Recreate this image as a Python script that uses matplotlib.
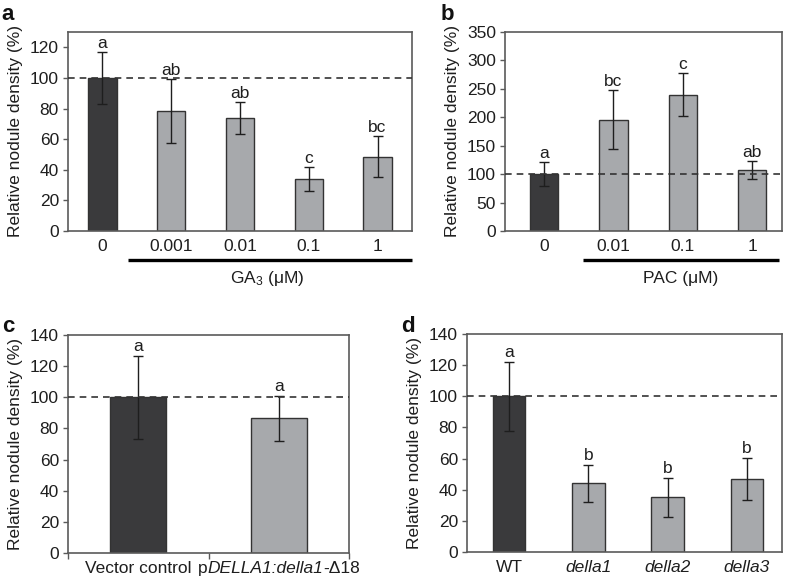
import matplotlib
matplotlib.use("Agg")
import matplotlib.pyplot as plt
import matplotlib.transforms as mtransforms
import numpy as np

plt.rcParams['font.family'] = ['Liberation Sans', 'DejaVu Sans']
plt.rcParams['mathtext.fontset'] = 'custom'
plt.rcParams['mathtext.rm'] = 'Liberation Sans'
plt.rcParams['mathtext.it'] = 'Liberation Sans:italic'

# ---- data ----
ga_labels = ['0', '0.001', '0.01', '0.1', '1']
ga_means = [100, 78.5, 74, 34, 48.5]
ga_err = [17, 21, 10.5, 8, 13.5]
ga_sig = ['a', 'ab', 'ab', 'c', 'bc']

pac_labels = ['0', '0.01', '0.1', '1']
pac_means = [100, 196, 240, 107]
pac_err = [21, 52, 38, 16]
pac_sig = ['a', 'bc', 'c', 'ab']

vec_labels = ['Vector control', '']
# second label is drawn in pieces (mixed upright / italic)
vec_label_parts = [('p', 'normal'), ('DELLA1:della1', 'italic'), ('-Δ18', 'normal')]
vec_means = [100, 86.5]
vec_err = [26.5, 14.5]
vec_sig = ['a', 'a']

mut_labels = ['WT', 'della1', 'della2', 'della3']
mut_means = [100, 44, 35, 47]
mut_err = [22, 12, 12.5, 13.5]
mut_sig = ['a', 'b', 'b', 'b']

DARK = '#3a3a3c'
GREY = '#a7a9ac'
EDGE = '#333333'
FRAME = '#5a5a5a'
TXT = '#1e1e1e'
FS = 12.5


def bar_panel(ax, labels, means, errs, sig, ylim, yticks, xlim, width, sig_off):
    x = np.arange(len(means))
    colors = [DARK] + [GREY] * (len(means) - 1)
    ax.bar(x, means, width=width, color=colors, edgecolor=EDGE, linewidth=1.0, zorder=2)
    ax.errorbar(x, means, yerr=errs, fmt='none', ecolor=TXT, elinewidth=1.0,
                capsize=3.5, capthick=1.0, zorder=3)
    ax.axhline(100, color='#333333', linestyle=(0, (4, 3)), linewidth=1.2, zorder=4)
    for xi, m, e, s in zip(x, means, errs, sig):
        ax.text(xi, m + e + sig_off, s, ha='center', va='bottom', fontsize=FS, color=TXT)
    ax.set_xlim(*xlim)
    ax.set_ylim(*ylim)
    ax.set_yticks(yticks)
    ax.set_xticks(x)
    ax.set_xticklabels(labels)
    ax.tick_params(axis='x', length=0, pad=6, labelsize=FS, colors=TXT)
    ax.tick_params(axis='y', direction='out', length=3.5, width=1.0, color=FRAME,
                   labelsize=FS, labelcolor=TXT, pad=3)
    for sp in ax.spines.values():
        sp.set_color(FRAME)
        sp.set_linewidth(1.2)
    ax.set_ylabel('Relative nodule density (%)', fontsize=FS, color=TXT, labelpad=5)


fig = plt.figure(figsize=(7.88, 5.83), dpi=100)

ax_a = fig.add_axes([0.0863, 0.6038, 0.4365, 0.3413])
bar_panel(ax_a, ga_labels, ga_means, ga_err, ga_sig, (0, 130), range(0, 121, 20),
          (-0.5, 4.5), 0.41, 0.5)
ax_a.plot([0.365, 4.5], [-0.146, -0.146], color='black', linewidth=2.4,
          transform=ax_a.get_xaxis_transform(), clip_on=False, solid_capstyle='butt')
ax_a.text(2.4, -0.24, 'GA$_3$ (μM)', transform=ax_a.get_xaxis_transform(),
          ha='center', va='center', fontsize=FS, color=TXT)

ax_b = fig.add_axes([0.6409, 0.6038, 0.3515, 0.3413])
bar_panel(ax_b, pac_labels, pac_means, pac_err, pac_sig, (0, 350), range(0, 351, 50),
          (-0.56, 3.43), 0.41, 2)
ax_b.plot([0.563, 3.38], [-0.146, -0.146], color='black', linewidth=2.4,
          transform=ax_b.get_xaxis_transform(), clip_on=False, solid_capstyle='butt')
ax_b.text(1.97, -0.24, 'PAC (μM)', transform=ax_b.get_xaxis_transform(),
          ha='center', va='center', fontsize=FS, color=TXT)

ax_c = fig.add_axes([0.0863, 0.0515, 0.3566, 0.374])
bar_panel(ax_c, vec_labels, vec_means, vec_err, vec_sig, (0, 140), range(0, 141, 20),
          (-0.5, 1.5), 0.4, 1)
ax_c.set_xticks([-0.5, 0.5, 1.5], minor=True)
ax_c.tick_params(axis='x', which='minor', direction='out', length=4, width=1.0, color=FRAME)
ax_c.tick_params(axis='x', which='major', pad=6)

ax_d = fig.add_axes([0.5926, 0.0532, 0.3997, 0.374])
bar_panel(ax_d, mut_labels, mut_means, mut_err, mut_sig, (0, 140), range(0, 141, 20),
          (-0.53, 3.44), 0.41, 1)
for lab in ax_d.get_xticklabels()[1:]:
    lab.set_fontstyle('italic')

for letter, (px, py) in zip('abcd', [(8, 15), (447, 15), (8, 326), (408, 326)]):
    fig.text(px / 788, 1 - py / 583, letter, fontsize=16, fontweight='bold',
             ha='center', va='center', color='#111111')

# mixed-style second tick label in panel c, placed at the same height as the first one
fig.canvas.draw()
renderer = fig.canvas.get_renderer()
first = ax_c.get_xticklabels()[0]
fb = first.get_window_extent(renderer)
trans = mtransforms.blended_transform_factory(ax_c.transData, mtransforms.IdentityTransform())
pieces = []
prev = None
for txt, style in vec_label_parts:
    if prev is None:
        t = ax_c.text(1, fb.y0, txt, transform=trans, ha='left', va='bottom',
                      fontsize=FS, fontstyle=style, color=TXT, clip_on=False)
    else:
        t = ax_c.annotate(txt, xy=(1, 0), xycoords=prev, ha='left', va='bottom',
                          fontsize=FS, fontstyle=style, color=TXT, annotation_clip=False)
    pieces.append(t)
    prev = t
fig.canvas.draw()
x0 = pieces[0].get_window_extent(renderer).x0
x1 = pieces[-1].get_window_extent(renderer).x1
shift = (x1 - x0) / 2
cx = ax_c.transData.transform((1, 0))[0]
pieces[0].set_transform(mtransforms.IdentityTransform())
pieces[0].set_position((cx - shift, fb.y0))

fig.savefig('out.png', dpi=100)
